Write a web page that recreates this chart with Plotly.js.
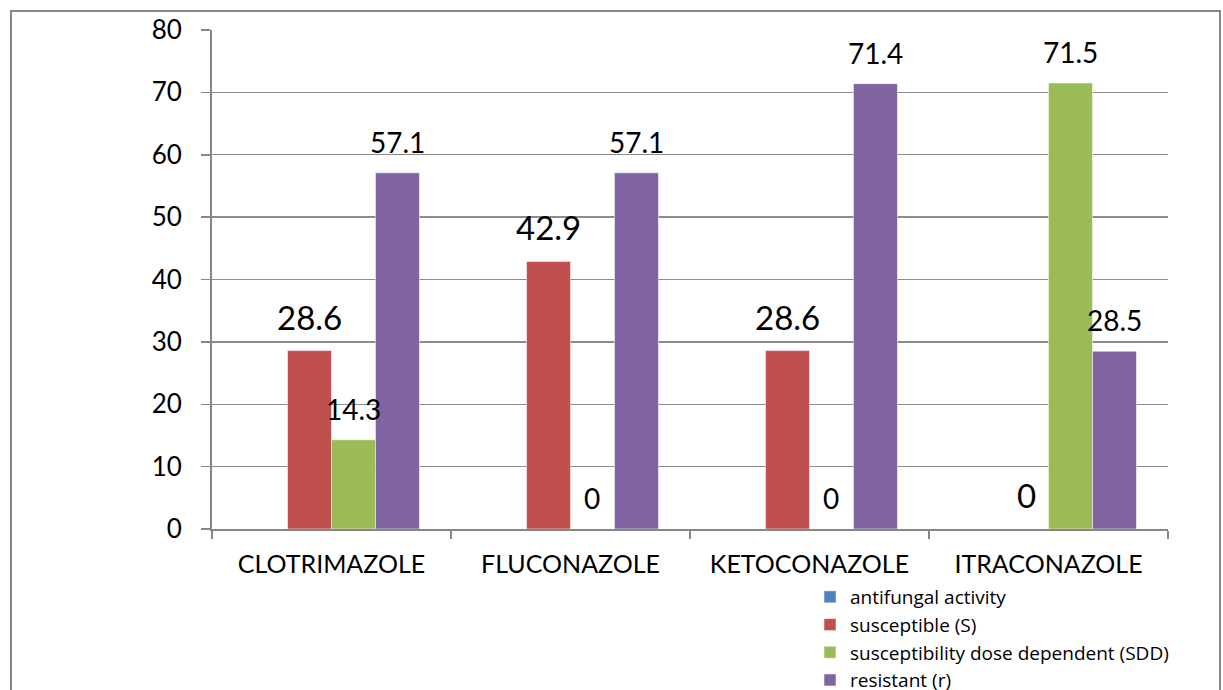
<!DOCTYPE html>
<html>
<head>
<meta charset="utf-8">
<script src="https://cdn.plot.ly/plotly-3.0.1.min.js"></script>
<style>
  html, body { margin: 0; padding: 0; background: #fff; overflow: hidden; }
  #frame { position: absolute; left: 10px; top: 10px; width: 1207px; height: 700px; border: 2px solid #878787; }
  #chart { position: absolute; left: 0; top: 0; width: 1223px; height: 690px; }
</style>
</head>
<body>
<div id="frame"></div>
<div id="chart"></div>
<script>
const categories = ["CLOTRIMAZOLE", "FLUCONAZOLE", "KETOCONAZOLE", "ITRACONAZOLE"];
const seriesNames = ["antifungal activity", "susceptible (S)", "susceptibility dose dependent (SDD)", "resistant (r)"];
const antifungalActivity = [0, 0, 0, 0];
const susceptible = [28.6, 42.9, 28.6, 0];
const sdd = [14.3, 0, 0, 71.5];
const resistant = [57.1, 57.1, 71.4, 28.5];
const yTicks = [0, 10, 20, 30, 40, 50, 60, 70, 80];

const colors = ["#4F81BD", "#C0504D", "#9BBB59", "#8064A2"];
const allSeries = [antifungalActivity, susceptible, sdd, resistant];
const showLabels = [false, true, true, true];
const labelSizes = [28, 33, 28, 28];

const W = 1223, H = 690;
const margin = {l: 212, r: 55, t: 30, b: 161, autoexpand: false};
const bargap = 0.264;
const plotW = W - margin.l - margin.r;
const plotH = H - margin.t - margin.b;
const catW = plotW / categories.length;
const barW = catW * (1 - bargap) / allSeries.length;

const traces = allSeries.map((vals, i) => ({
  type: 'bar',
  name: seriesNames[i],
  x: categories,
  y: vals,
  marker: {color: colors[i], line: {color: 'rgba(255,255,255,0.5)', width: 1}},
  hoverinfo: 'x+y+name'
}));

const annotations = [];
allSeries.forEach((vals, i) => {
  if (!showLabels[i]) return;
  vals.forEach((v, j) => {
    annotations.push({
      x: categories[j], y: v, xref: 'x', yref: 'y',
      text: String(v), showarrow: false,
      xanchor: 'center', yanchor: 'bottom',
      xshift: (i - (allSeries.length - 1) / 2) * barW,
      yshift: 12,
      font: {family: 'Lato, sans-serif', size: labelSizes[i], color: '#000'}
    });
  });
});

const layout = {
  width: W, height: H,
  margin: margin,
  paper_bgcolor: 'rgba(0,0,0,0)',
  plot_bgcolor: 'rgba(0,0,0,0)',
  barmode: 'group',
  bargap: bargap,
  bargroupgap: 0,
  font: {family: 'Lato, sans-serif', color: '#000'},
  showlegend: true,
  legend: {
    x: (810 - margin.l) / plotW, xanchor: 'left',
    y: (529 - 578) / plotH, yanchor: 'top',
    font: {family: '"Open Sans", sans-serif', size: 19, color: '#000'},
    bgcolor: 'rgba(0,0,0,0)',
    traceorder: 'normal',
    itemclick: false
  },
  xaxis: {
    type: 'category',
    showline: true, linecolor: '#878787', linewidth: 2,
    ticks: 'outside', tickson: 'boundaries', ticklen: 8, tickcolor: '#878787', tickwidth: 1.5,
    tickfont: {size: 25, color: '#000'},
    ticklabelstandoff: 12,
    showgrid: false, zeroline: false
  },
  yaxis: {
    range: [0, 80],
    tickvals: yTicks,
    ticktext: yTicks.map(String),
    showline: true, linecolor: '#878787', linewidth: 2,
    ticks: 'outside', ticklen: 9, tickcolor: '#878787', tickwidth: 1.5,
    tickfont: {size: 26, color: '#000'},
    ticklabelstandoff: 14,
    showgrid: true, gridcolor: '#8c8c8c', gridwidth: 1.3,
    zeroline: false
  },
  annotations: annotations
};

Plotly.newPlot('chart', traces, layout, {displayModeBar: false, staticPlot: true});
</script>
</body>
</html>
